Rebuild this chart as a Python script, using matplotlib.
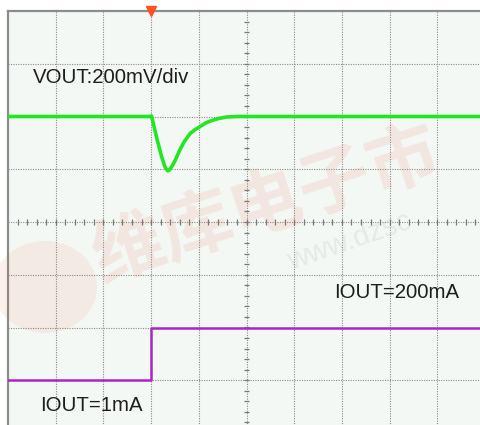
import numpy as np
import matplotlib.pyplot as plt
from matplotlib.patches import Circle

plt.rcParams['font.family'] = ['Liberation Sans', 'DejaVu Sans']

# Scope screen: 10 x 8 divisions, centre at (5, 0)
# VOUT trace (divisions)
vout_t = [0.0, 3.0, 3.01, 3.08, 3.13, 3.18, 3.22, 3.27, 3.31, 3.35, 3.39, 3.44,
          3.50, 3.56, 3.61, 3.70, 3.82, 3.92, 4.03, 4.13, 4.23, 4.40, 4.58, 4.80, 5.0, 10.5]
vout_y = [2.0, 2.0, 2.01, 1.74, 1.55, 1.38, 1.24, 1.10, 1.01, 0.97, 0.99, 1.06,
          1.16, 1.28, 1.38, 1.53, 1.68, 1.75, 1.81, 1.87, 1.91, 1.96, 1.99, 2.0, 2.0, 2.0]

# IOUT trace (divisions)
iout_t = [0.0, 3.0, 3.0, 10.5]
iout_y = [-3.0, -3.0, -2.0, -2.0]

labels = ["VOUT:200mV/div", "IOUT=1mA", "IOUT=200mA"]
label_pos = [(0.52, 2.73), (0.67, -3.47), (6.83, -1.34)]

W, H = 480, 425
fig = plt.figure(figsize=(W / 100, H / 100), dpi=100)
fig.patch.set_facecolor('white')

# screen spans px x 8..485, y 11..433 (partly cut off by the frame)
ax = fig.add_axes([8 / W, (H - 433) / H, 477 / W, 422 / H])
ax.set_xlim(0, 10)
ax.set_ylim(-4, 4)
ax.set_facecolor('#f4f8f4')
for s in ['right', 'bottom']:
    ax.spines[s].set_visible(False)
for s in ['left', 'top']:
    ax.spines[s].set_color('#8c8c8c')
    ax.spines[s].set_linewidth(1.6)
ax.set_xticks([])
ax.set_yticks([])

# dotted graticule
for gx in range(1, 10):
    ax.axvline(gx, color='#8a8a8a', lw=0.8, ls=(0, (1, 1.2)), zorder=1)
for gy in range(-3, 4):
    ax.axhline(gy, color='#8a8a8a', lw=0.8, ls=(0, (1, 1.2)), zorder=1)

# minor marks on the centre axes
mx = np.arange(0.2, 10, 0.2)
ax.vlines(mx, -0.06, 0.06, color='#777777', lw=0.9, zorder=1)
my = np.arange(-3.8, 4, 0.2)
ax.hlines(my, 4.94, 5.06, color='#777777', lw=0.9, zorder=1)

# traces
ax.plot(vout_t, vout_y, color='#22e622', lw=2.6, zorder=3, solid_joinstyle='round')
ax.plot(iout_t, iout_y, color='#a826c8', lw=1.8, zorder=3)

# trigger marker
ax.plot([3.0], [4.0], marker='v', color='#ff5020', markersize=7, clip_on=False, zorder=4)

for txt, (lx, ly) in zip(labels, label_pos):
    ax.text(lx, ly, txt, fontsize=14.7, color='#1e1e1e', ha='left', va='center', zorder=5)

# faint watermark
fig.patches.append(Circle((45 / W, 1 - 287 / H), 52 / W, transform=fig.transFigure,
                          facecolor='#e8603c', alpha=0.09, edgecolor='none', zorder=2))
fig.text(95 / W, 1 - 262 / H, "维库电子市", fontsize=52, fontweight='bold',
         family=['Noto Sans CJK SC', 'DejaVu Sans'], color='#e8603c', alpha=0.11,
         rotation=18, rotation_mode='anchor', ha='left', va='center')
fig.text(288 / W, 1 - 262 / H, "www.dzsc", fontsize=21, color='#909090', alpha=0.14,
         rotation=19, rotation_mode='anchor', ha='left', va='center')

fig.savefig('out.png', dpi=100, facecolor='white')
